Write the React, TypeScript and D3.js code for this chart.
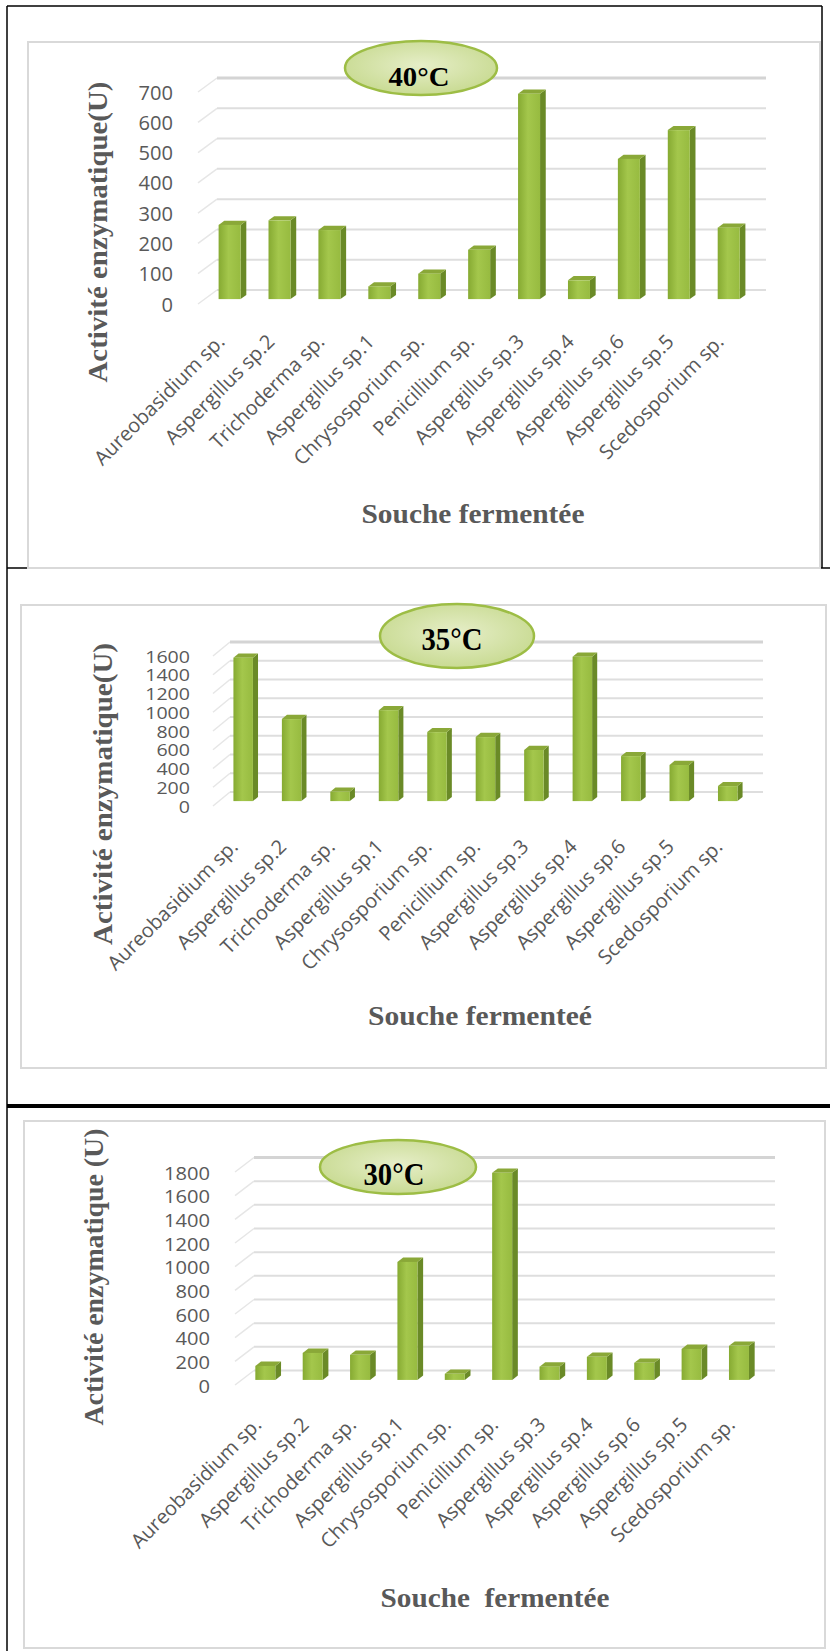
import * as d3 from 'd3';

// strains, same order in the three charts
const categories = [
  'Aureobasidium sp.',
  'Aspergillus sp.2',
  'Trichoderma sp.',
  'Aspergillus sp.1',
  'Chrysosporium sp.',
  'Penicillium sp.',
  'Aspergillus sp.3',
  'Aspergillus sp.4',
  'Aspergillus sp.6',
  'Aspergillus sp.5',
  'Scedosporium sp.',
];

// enzymatic activity (U) per temperature
const activity40 = [245, 260, 228, 42, 84, 163, 678, 62, 463, 558, 236];
const activity35 = [1530, 875, 100, 970, 736, 683, 545, 1540, 480, 385, 160];
const activity30 = [118, 228, 212, 997, 52, 1750, 112, 195, 145, 262, 288];

const ticks40 = [0, 100, 200, 300, 400, 500, 600, 700];
const ticks35 = [0, 200, 400, 600, 800, 1000, 1200, 1400, 1600];
const ticks30 = [0, 200, 400, 600, 800, 1000, 1200, 1400, 1600, 1800];

const temps = ['40°C', '35°C', '30°C'];
const yTitles = ['Activité enzymatique(U)', 'Activité enzymatique(U)', 'Activité enzymatique (U)'];
const xTitles = ['Souche fermentée', 'Souche fermenteé', 'Souche  fermentée'];

type Layout = {
  frame: [number, number, number, number];
  left: number;
  right: number;
  y0: number;
  yTop: number;
  ddx: number;
  ddy: number;
  barW: number;
  tickX: number;
  tickSize: number;
  digitW: number;
  labelDx: number;
  labelY: number;
  ell: [number, number, number, number];
  tempX: number;
  tempY: number;
  tempSize: number;
  yTitleX: number;
  yTitleY: number;
  yTitleLen: number;
  xTitleX: number;
  xTitleY: number;
  xTitleLen: number;
};

const layouts: Layout[] = [
  {
    frame: [28, 42, 792, 526],
    left: 198, right: 747, y0: 304, yTop: 92, ddx: 19, ddy: -14, barW: 22,
    tickX: 173, tickSize: 19.5, digitW: 11.5, labelDx: 3, labelY: 343,
    ell: [421, 68, 76, 27], tempX: 419, tempY: 86, tempSize: 28,
    yTitleX: 107, yTitleY: 232, yTitleLen: 301,
    xTitleX: 473, xTitleY: 523, xTitleLen: 223,
  },
  {
    frame: [21, 605, 805, 463],
    left: 213, right: 746, y0: 806, yTop: 656, ddx: 17, ddy: -14, barW: 19.5,
    tickX: 190, tickSize: 16.5, digitW: 11.2, labelDx: 2, labelY: 848,
    ell: [457, 636, 77, 32], tempX: 452, tempY: 650, tempSize: 31,
    yTitleX: 112, yTitleY: 794, yTitleLen: 302,
    xTitleX: 480, xTitleY: 1025, xTitleLen: 224,
  },
  {
    frame: [24, 1121, 801, 527],
    left: 235, right: 756, y0: 1385, yTop: 1172, ddx: 19, ddy: -14.5, barW: 20,
    tickX: 210, tickSize: 18.5, digitW: 11.5, labelDx: 4, labelY: 1426,
    ell: [398, 1167, 78, 27], tempX: 394, tempY: 1185, tempSize: 31,
    yTitleX: 103, yTitleY: 1277, yTitleLen: 297,
    xTitleX: 495, xTitleY: 1607, xTitleLen: 229,
  },
];

const sans = '"Open Sans", "Noto Sans", sans-serif';
const serif = '"Liberation Serif", "Times New Roman", serif';
const grey = '#595959';

type PanelProps = {
  L: Layout;
  values: number[];
  ticks: number[];
  temp: string;
  yTitle: string;
  xTitle: string;
};

function Panel({ L, values, ticks, temp, yTitle, xTitle }: PanelProps) {
  const x = d3.scaleBand<string>().domain(categories).range([L.left, L.right]);
  const y = d3
    .scaleLinear()
    .domain([0, d3.max(ticks) as number])
    .range([L.y0, L.yTop]);

  const f = 0.35; // depth of bar front face
  const sdx = L.ddx * 0.3;
  const sdy = L.ddy * 0.3;
  const topTick = d3.max(ticks) as number;

  return (
    <g>
      <rect
        x={L.frame[0]}
        y={L.frame[1]}
        width={L.frame[2]}
        height={L.frame[3]}
        fill="#fff"
        stroke="#d9d9d9"
        strokeWidth={2}
      />

      {/* gridlines: side wall + back wall */}
      {ticks.map((t) => (
        <g key={t}>
          <line
            x1={L.left}
            y1={y(t)}
            x2={L.left + L.ddx}
            y2={y(t) + L.ddy}
            stroke="#e6e6e6"
            strokeWidth={1.5}
          />
          <line
            x1={L.left + L.ddx}
            y1={y(t) + L.ddy}
            x2={L.right + L.ddx}
            y2={y(t) + L.ddy}
            stroke={t === topTick ? '#d4d4d4' : '#dedede'}
            strokeWidth={t === topTick ? 3 : 2}
          />
        </g>
      ))}

      {/* tick labels */}
      {ticks.map((t) => (
        <text
          key={'t' + t}
          x={L.tickX}
          y={y(t)}
          textAnchor="end"
          dominantBaseline="central"
          fontFamily={sans}
          fontSize={L.tickSize}
          textLength={String(t).length * L.digitW}
          lengthAdjust="spacingAndGlyphs"
          fill={grey}
        >
          {t}
        </text>
      ))}

      {/* 3D columns */}
      {categories.map((c, i) => {
        const bx = (x(c) as number) + (x.bandwidth() - L.barW) / 2 + L.ddx * f;
        const yb = y(0) + L.ddy * f;
        const yt = y(values[i]) + L.ddy * f;
        const w = L.barW;
        return (
          <g key={c}>
            <polygon
              points={`${bx + w},${yt} ${bx + w + sdx},${yt + sdy} ${bx + w + sdx},${yb + sdy} ${bx + w},${yb}`}
              fill="#6a8a27"
            />
            <polygon
              points={`${bx},${yt} ${bx + sdx},${yt + sdy} ${bx + w + sdx},${yt + sdy} ${bx + w},${yt}`}
              fill="#8aa838"
            />
            <rect x={bx} y={yt} width={w} height={yb - yt} fill="url(#barFront)" />
          </g>
        );
      })}

      {/* category labels */}
      {categories.map((c) => (
        <text
          key={'l' + c}
          transform={`translate(${(x(c) as number) + x.bandwidth() / 2 + L.labelDx},${L.labelY}) rotate(-45)`}
          textAnchor="end"
          fontFamily={sans}
          fontSize={20}
          fill={grey}
        >
          {c}
        </text>
      ))}

      {/* temperature badge */}
      <ellipse
        cx={L.ell[0]}
        cy={L.ell[1]}
        rx={L.ell[2]}
        ry={L.ell[3]}
        fill="url(#ellFill)"
        stroke="#9dbd45"
        strokeWidth={2.5}
      />
      <text
        x={L.tempX}
        y={L.tempY}
        textAnchor="middle"
        fontFamily={serif}
        fontWeight="bold"
        fontSize={L.tempSize}
        textLength={61}
        lengthAdjust="spacingAndGlyphs"
        fill="#000"
      >
        {temp}
      </text>

      {/* axis titles */}
      <text
        transform={`translate(${L.yTitleX},${L.yTitleY}) rotate(-90)`}
        textAnchor="middle"
        fontFamily={serif}
        fontWeight="bold"
        fontSize={28}
        textLength={L.yTitleLen}
        lengthAdjust="spacingAndGlyphs"
        fill={grey}
        style={{ whiteSpace: 'pre' }}
      >
        {yTitle}
      </text>
      <text
        x={L.xTitleX}
        y={L.xTitleY}
        textAnchor="middle"
        fontFamily={serif}
        fontWeight="bold"
        fontSize={27}
        textLength={L.xTitleLen}
        lengthAdjust="spacingAndGlyphs"
        fill={grey}
        style={{ whiteSpace: 'pre' }}
      >
        {xTitle}
      </text>
    </g>
  );
}

export default function App() {
  const series = [activity40, activity35, activity30];
  const tickSets = [ticks40, ticks35, ticks30];
  return (
    <div style={{ position: 'absolute', left: 0, top: 0 }}>
      <svg width={830} height={1651} style={{ display: 'block', background: '#fff' }}>
        <defs>
          <linearGradient id="barFront" x1="0" y1="0" x2="1" y2="0">
            <stop offset="0%" stopColor="#86aa32" />
            <stop offset="45%" stopColor="#a4c74c" />
            <stop offset="100%" stopColor="#97bb40" />
          </linearGradient>
          <radialGradient id="ellFill" cx="50%" cy="45%" r="60%">
            <stop offset="0%" stopColor="#e6eec8" />
            <stop offset="100%" stopColor="#c6d98e" />
          </radialGradient>
        </defs>

        {/* page borders */}
        <line x1={7} y1={6} x2={7} y2={1651} stroke="#000" strokeWidth={1.5} />
        <line x1={7} y1={6} x2={822} y2={6} stroke="#000" strokeWidth={1.5} />
        <line x1={822} y1={6} x2={822} y2={568} stroke="#000" strokeWidth={1.5} />
        <line x1={7} y1={568} x2={830} y2={568} stroke="#000" strokeWidth={1.5} />
        <line x1={7} y1={1106} x2={830} y2={1106} stroke="#000" strokeWidth={4} />

        {layouts.map((L, i) => (
          <Panel
            key={i}
            L={L}
            values={series[i]}
            ticks={tickSets[i]}
            temp={temps[i]}
            yTitle={yTitles[i]}
            xTitle={xTitles[i]}
          />
        ))}
      </svg>
    </div>
  );
}
